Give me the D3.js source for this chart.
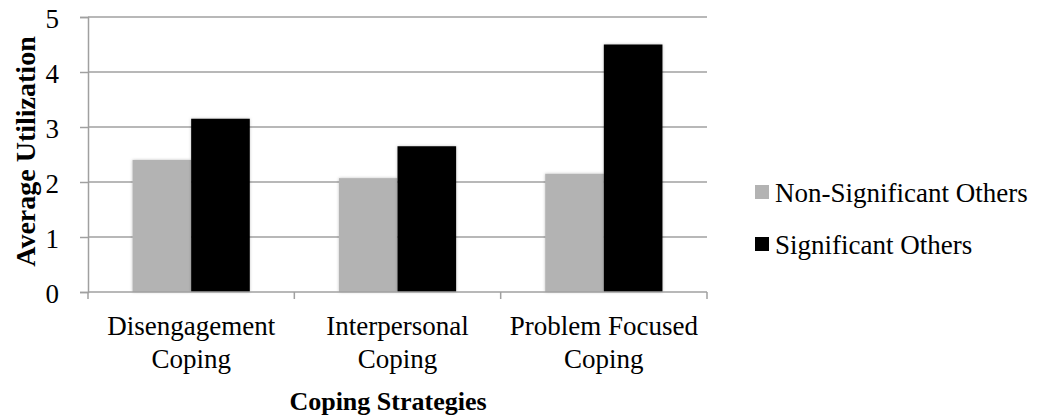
<!DOCTYPE html>
<html>
<head>
<meta charset="utf-8">
<script src="https://cdn.jsdelivr.net/npm/d3@7"></script>
<style>
  body { margin: 0; background: #fff; }
  text { font-family: "Liberation Serif", serif; fill: #000; }
</style>
</head>
<body>
<div id="chart"></div>
<script>
const FRAME_WIDTH = 1039;
const FRAME_HEIGHT = 419;
const MARGINS = { left: 88, right: 332, top: 17, bottom: 127 };

// data
const categories = [["Disengagement", "Coping"], ["Interpersonal", "Coping"], ["Problem Focused", "Coping"]];
const seriesNames = ["Non-Significant Others", "Significant Others"];
const seriesColors = ["#b3b3b3", "#000000"];
const nonSigValues = [2.40, 2.07, 2.15];
const sigValues = [3.15, 2.65, 4.50];
const yTicks = [0, 1, 2, 3, 4, 5];

let plot_width = FRAME_WIDTH - MARGINS.left - MARGINS.right;
let plot_height = FRAME_HEIGHT - MARGINS.top - MARGINS.bottom;

let svg = d3.select("#chart").append("svg")
  .attr("width", FRAME_WIDTH)
  .attr("height", FRAME_HEIGHT);

let defs = svg.append("defs");
let shadow = defs.append("filter").attr("id", "shadow")
  .attr("x", "-20%").attr("y", "-5%").attr("width", "140%").attr("height", "110%");
shadow.append("feDropShadow").attr("dx", 0).attr("dy", 0).attr("stdDeviation", 1.5)
  .attr("flood-color", "#000").attr("flood-opacity", 0.25);

let g = svg.append("g")
  .attr("transform", "translate(" + MARGINS.left + "," + MARGINS.top + ")");

let x = d3.scaleBand()
  .domain(d3.range(categories.length))
  .range([0, plot_width]);
let xInner = d3.scaleBand()
  .domain([0, 1])
  .range([0, x.bandwidth()])
  .paddingOuter(0.76)
  .paddingInner(0);
let y = d3.scaleLinear().domain([0, 5]).range([plot_height, 0]);

// gridlines
g.selectAll(".grid")
  .data(yTicks.slice(1))
  .enter()
  .append("line")
  .attr("x1", 0)
  .attr("x2", plot_width)
  .attr("y1", d => y(d))
  .attr("y2", d => y(d))
  .attr("stroke", "#a0a0a0")
  .attr("stroke-width", 1.5);

// bars
let series = [nonSigValues, sigValues];
series.forEach(function(vals, s) {
  g.selectAll(".bar" + s)
    .data(vals)
    .enter()
    .append("rect")
    .attr("x", (d, i) => x(i) + xInner(s))
    .attr("width", xInner.bandwidth())
    .attr("y", d => y(d))
    .attr("height", d => plot_height - y(d))
    .attr("fill", seriesColors[s])
    .attr("filter", "url(#shadow)");
});

// y axis
let yAxis = g.append("g")
  .call(d3.axisLeft(y).tickValues(yTicks).tickSize(8).tickFormat(d3.format("d")));
yAxis.select(".domain").attr("stroke", "#a0a0a0").attr("stroke-width", 1.5);
yAxis.selectAll(".tick line").attr("stroke", "#a0a0a0").attr("stroke-width", 1.5);
yAxis.selectAll(".tick text")
  .attr("x", -29)
  .attr("dy", "0.4em")
  .style("font-size", "27px")
  .style("font-family", "Liberation Serif");

// x axis
let xAxisG = g.append("g").attr("transform", "translate(0," + plot_height + ")");
xAxisG.append("line")
  .attr("x1", 0).attr("x2", plot_width)
  .attr("stroke", "#a0a0a0").attr("stroke-width", 1.5);
xAxisG.selectAll(".xt")
  .data(d3.range(categories.length + 1))
  .enter()
  .append("line")
  .attr("x1", d => d * x.step())
  .attr("x2", d => d * x.step())
  .attr("y1", 0).attr("y2", 7)
  .attr("stroke", "#a0a0a0").attr("stroke-width", 1.5);

categories.forEach(function(lines, i) {
  xAxisG.selectAll(".cat" + i)
    .data(lines)
    .enter()
    .append("text")
    .attr("text-anchor", "middle")
    .style("font-size", "27px")
    .attr("x", x(i) + x.bandwidth() / 2)
    .attr("y", (t, j) => 43 + j * 33)
    .text(t => t);
});

// axis titles
svg.append("text")
  .attr("x", 388)
  .attr("y", 410)
  .attr("text-anchor", "middle")
  .style("font-size", "26px")
  .style("font-weight", "bold")
  .text("Coping Strategies");

svg.append("text")
  .attr("transform", "translate(35," + (MARGINS.top + plot_height / 2 - 3) + ") rotate(-90)")
  .attr("text-anchor", "middle")
  .style("font-size", "28px")
  .style("font-weight", "bold")
  .text("Average Utilization");

// legend
let legend = svg.selectAll(".legend")
  .data(seriesNames)
  .enter()
  .append("g")
  .attr("transform", (d, i) => "translate(755," + (185 + i * 52) + ")");
legend.append("rect")
  .attr("width", 14)
  .attr("height", 14)
  .attr("fill", (d, i) => seriesColors[i]);
legend.append("text")
  .attr("x", 20)
  .attr("y", 17)
  .style("font-size", "27px")
  .text(d => d);
</script>
</body>
</html>
